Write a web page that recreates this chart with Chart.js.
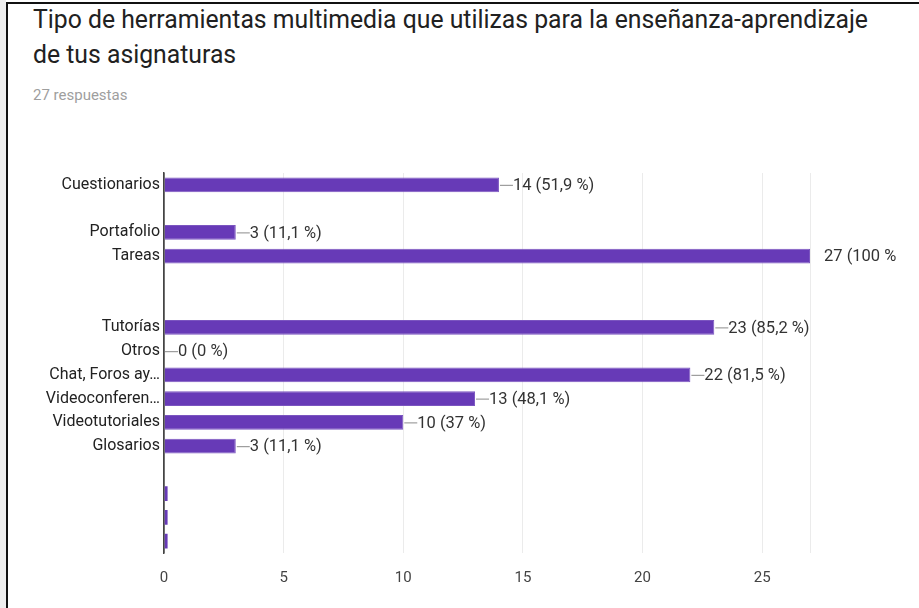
<!DOCTYPE html>
<html>
<head>
<meta charset="utf-8">
<script src="https://cdn.jsdelivr.net/npm/chart.js@4"></script>
<style>
  html, body { margin: 0; padding: 0; background: #fff; }
  body { width: 919px; height: 608px; position: relative; overflow: hidden; font-family: Roboto, sans-serif; }
  #strip { position: absolute; left: 0; top: 0; width: 6px; height: 608px; background: #eeeeee; }
  #frame { position: absolute; left: 6px; top: 2px; width: 913px; height: 606px; border-left: 2px solid #111; border-top: 2px solid #111; box-sizing: border-box; }
  .title { position: absolute; left: 33px; font-size: 26px; color: #212121; white-space: nowrap; transform-origin: 0 0; }
  #sub { position: absolute; left: 33px; top: 86px; font-size: 15px; color: #9e9e9e; }
  #wrap { position: absolute; left: 0; top: 0; width: 919px; height: 608px; }
</style>
</head>
<body>
<div id="strip"></div>
<div id="frame"></div>
<div class="title" id="t1" style="top:4px">Tipo de herramientas multimedia que utilizas para la enseñanza-aprendizaje</div>
<div class="title" id="t2" style="top:39px">de tus asignaturas</div>
<div id="sub">27 respuestas</div>
<div id="wrap"><canvas id="chart" width="919" height="608"></canvas></div>
<script>
async function draw(){

// rows of the chart, blank ones are empty rows in the original
const categories = [
  "Cuestionarios", "", "Portafolio", "Tareas", "", "",
  "Tutorías", "Otros", "Chat, Foros ay…", "Videoconferen…",
  "Videotutoriales", "Glosarios", "", "", "", ""
];
const counts = [14, null, 3, 27, null, null, 23, 0, 22, 13, 10, 3, null, 0.15, 0.15, 0.15];
const valueLabels = [
  "14 (51,9 %)", "", "3 (11,1 %)", "27 (100 %", "", "",
  "23 (85,2 %)", "0 (0 %)", "22 (81,5 %)", "13 (48,1 %)",
  "10 (37 %)", "3 (11,1 %)", "", "", "", ""
];
const xTicks = [0, 5, 10, 15, 20, 25];
const xMax = 27;

// squeeze the title to the width it has in the picture
const t1 = document.getElementById("t1");
const sx = 835 / t1.getBoundingClientRect().width;
t1.style.transform = "scaleX(" + sx + ")";
document.getElementById("t2").style.transform = "scaleX(" + sx + ")";

const labelFont = "16.5px Roboto";
const barLabels = {
  id: "barLabels",
  afterDatasetsDraw(chart) {
    const c = chart.ctx;
    const meta = chart.getDatasetMeta(0);
    c.save();
    c.font = labelFont;
    c.textBaseline = "middle";
    meta.data.forEach((bar, i) => {
      const txt = valueLabels[i];
      if (!txt) return;
      if (counts[i] !== xMax) {
        c.strokeStyle = "#9e9e9e";
        c.lineWidth = 1.2;
        c.beginPath();
        c.moveTo(bar.x + 1, bar.y + 0.5);
        c.lineTo(bar.x + 14, bar.y + 0.5);
        c.stroke();
      }
      c.fillStyle = "#333";
      c.fillText(txt, bar.x + 14, bar.y + 1);
    });
    c.restore();
  }
};

new Chart(document.getElementById("chart").getContext("2d"), {
  type: "bar",
  data: {
    labels: categories,
    datasets: [{
      data: counts,
      backgroundColor: "#673ab7",
      borderColor: "#7b55c0",
      borderWidth: (ctx) => (counts[ctx.dataIndex] < 1 ? 0 : 1),
      barPercentage: 0.62,
      categoryPercentage: 1
    }]
  },
  options: {
    indexAxis: "y",
    responsive: false,
    animation: false,
    layout: { padding: { top: 173, right: 109, left: 0, bottom: 0 } },
    plugins: { legend: { display: false }, tooltip: { enabled: false } },
    scales: {
      x: {
        min: 0,
        max: xMax,
        afterFit: (s) => { s.height = 55; },
        afterBuildTicks: (s) => {
          s.ticks = xTicks.map(v => ({ value: v })).concat([{ value: xMax }]);
        },
        ticks: {
          font: { family: "Roboto", size: 15 },
          color: "#444",
          padding: 16,
          maxRotation: 0,
          callback: (v) => (xTicks.includes(v) ? v : "")
        },
        grid: {
          color: (ctx) => (ctx.tick && ctx.tick.value === 0 ? "#444" : "#ebebeb"),
          lineWidth: (ctx) => (ctx.tick && ctx.tick.value === 0 ? 1.5 : 1),
          drawTicks: false
        },
        border: { display: false }
      },
      y: {
        afterFit: (s) => { s.width = 164; },
        ticks: {
          font: { family: "Roboto", size: 16 },
          color: "#222",
          padding: 4,
          autoSkip: false
        },
        grid: { display: false, drawTicks: false },
        border: { display: true, color: "#444", width: 1.5 }
      }
    }
  },
  plugins: [barLabels]
});
} draw()
</script>
</body>
</html>
